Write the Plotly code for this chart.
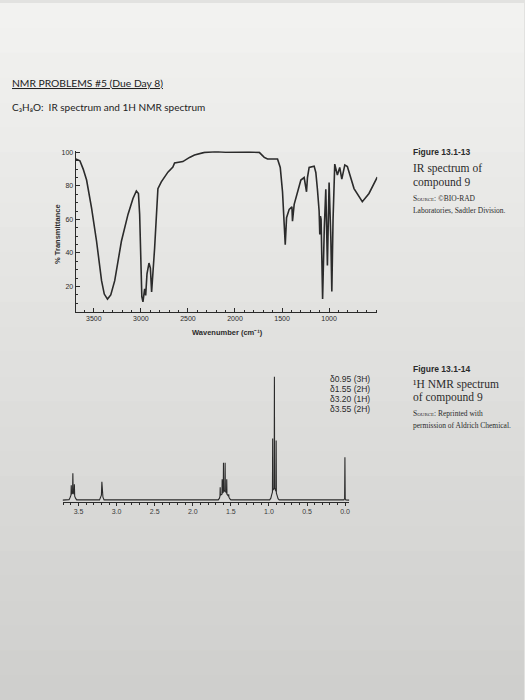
import plotly.graph_objects as go

# ---------------- data ----------------
ir_wavenumber = [3691, 3648, 3613, 3577, 3524, 3471, 3418, 3389, 3355, 3320, 3278, 3207,
                 3137, 3084, 3048, 3026, 3013, 2997, 2990, 2978, 2960, 2949, 2935, 2914,
                 2899, 2886, 2872, 2854, 2819, 2783, 2713, 2660, 2642, 2554, 2483, 2430,
                 2324, 2200, 2100, 1953, 1850, 1742, 1689, 1654, 1548, 1519, 1495, 1477,
                 1466, 1452, 1424, 1395, 1389, 1371, 1336, 1300, 1265, 1240, 1230, 1212,
                 1159, 1141, 1124, 1106, 1099, 1092, 1085, 1069, 1051, 1035, 1018, 1000,
                 982, 971, 958, 940, 912, 887, 865, 833, 806, 770, 735, 647, 576, 488]
ir_transmittance = [96, 95, 90, 83.5, 66.7, 47, 23.5, 15.5, 12.5, 15, 23.5, 47,
                    63, 72.5, 77, 75.5, 63, 30, 14, 10.8, 18.6, 14.7, 27.6, 34,
                    31, 16.7, 27.6, 43, 78.4, 82.4, 88.2, 91.2, 93.7, 94.5, 97, 98.4,
                    100, 100.4, 100.1, 100.3, 100.2, 100, 97, 96, 96, 91, 76.5, 57,
                    45, 61, 66, 67.6, 59, 69, 76.5, 83.5, 85, 76.5, 85, 91,
                    91.8, 88, 78, 65, 51, 62, 60, 12.5, 55, 78, 32.6, 82,
                    50, 17, 60, 93, 86.5, 91, 84, 92.5, 91.5, 85, 78.4, 70.6, 75.5, 85.3]

ir_x_ticks = [3500, 3000, 2500, 2000, 1500, 1000]
ir_y_ticks = [20, 40, 60, 80, 100]

nmr_ppm = [3.710, 3.625, 3.610, 3.600, 3.596, 3.592, 3.579, 3.575, 3.571, 3.559, 3.555,
           3.551, 3.540, 3.525,
           3.225, 3.210, 3.200, 3.194, 3.188, 3.180, 3.165,
           1.665, 1.650, 1.643, 1.640, 1.637, 1.617, 1.614, 1.611, 1.600, 1.597, 1.594,
           1.586, 1.578, 1.575, 1.572, 1.557, 1.554, 1.551, 1.531, 1.528, 1.525, 1.515, 1.500,
           0.990, 0.975, 0.965, 0.954, 0.951, 0.948, 0.931, 0.928, 0.925, 0.908, 0.905,
           0.902, 0.890, 0.880, 0.865,
           0.015, 0.006, 0.002, -0.002, -0.010, -0.056]
nmr_intensity = [0, 0.5, 3, 5, 15, 6, 7, 27, 8, 6, 16,
                 4, 2, 0.3,
                 0.3, 3, 5, 18.5, 5, 3, 0.3,
                 0.3, 2, 4, 13, 5, 6, 21, 7, 8, 37.6, 10,
                 9, 10, 37.6, 9, 7, 21, 6, 4, 6, 3, 1.5, 0.3,
                 0.3, 2, 5, 8, 62, 10, 12, 124, 12, 9, 60,
                 7, 4, 1.5, 0.3,
                 0.3, 1.5, 43, 1.5, 0.3, 0]
nmr_ticks = [3.5, 3.0, 2.5, 2.0, 1.5, 1.0, 0.5, 0.0]
nmr_tick_text = ["3.5", "3.0", "2.5", "2.0", "1.5", "1.0", "0.5", "0.0"]
nmr_peak_labels = ["δ0.95 (3H)", "δ1.55 (2H)", "δ3.20 (1H)", "δ3.55 (2H)"]

header_lines = ["NMR PROBLEMS #5 (Due Day 8)",
                "C₃H₈O:  IR spectrum and 1H NMR spectrum"]
ir_caption = ["Figure 13.1-13", "IR spectrum of", "compound 9",
              "Source: ©BIO-RAD", "Laboratories, Sadtler Division."]
nmr_caption = ["Figure 13.1-14", "¹H NMR spectrum", "of compound 9",
               "Source:", "permission of Aldrich Chemical."]
nmr_source_rest = "Reprinted with"

# ---------------- layout helpers ----------------
W, H = 525, 700
INK = "#2b2b2b"


def fx(x):
    return x / W


def fy(y):
    return 1 - y / H


fig = go.Figure()

fig.add_trace(go.Scatter(x=ir_wavenumber, y=ir_transmittance, mode="lines",
                         line=dict(color=INK, width=1.6), xaxis="x", yaxis="y",
                         cliponaxis=False, hoverinfo="skip", showlegend=False))
fig.add_trace(go.Scatter(x=nmr_ppm, y=nmr_intensity, mode="lines",
                         line=dict(color=INK, width=1.1), xaxis="x2", yaxis="y2",
                         cliponaxis=False, hoverinfo="skip", showlegend=False))

# page background (photographed paper, light at top, greyer at bottom)
shapes = []
n_bands = 28
top_rgb = (242, 242, 240)
bot_rgb = (207, 207, 205)
for i in range(n_bands):
    t = i / (n_bands - 1)
    c = tuple(int(round(top_rgb[k] + (bot_rgb[k] - top_rgb[k]) * t)) for k in range(3))
    shapes.append(dict(type="rect", xref="paper", yref="paper", x0=0, x1=1,
                       y0=1 - (i + 1) / n_bands - 0.002, y1=1 - i / n_bands,
                       fillcolor="rgb(%d,%d,%d)" % c, line=dict(width=0), layer="below"))

annotations = []


def text(s, x, y, size, family="Liberation Sans", xanchor="left", angle=0,
         color=INK, **fontkw):
    font = dict(size=size, family=family, color=color)
    font.update(fontkw)
    annotations.append(dict(text=s, x=fx(x), y=fy(y), xref="paper", yref="paper",
                            xanchor=xanchor, yanchor="middle", showarrow=False,
                            textangle=angle, font=font))


text(header_lines[0], 10, 80, 10.3, family="Lato", color="#222222", lineposition="under")
text(header_lines[1], 10, 104, 10, family="Lato", color="#222222")

# IR axis titles
text("Wavenumber (cm⁻¹)", 228, 331, 7.5, xanchor="center", weight="bold")
text("% Transmittance", 57, 232, 7.5, xanchor="center", angle=-90, weight="bold")

# captions
cap_size = [8.5, 11.5, 11.5, 7.5, 7.5]
cap_font = ["Liberation Sans", "Liberation Serif", "Liberation Serif",
            "Liberation Serif", "Liberation Serif"]
cap_weight = ["bold", "normal", "normal", "normal", "normal"]
cap_variant = ["normal", "normal", "normal", "small-caps", "normal"]

cap_y = [150, 166, 180, 196, 208]
for s, yy, sz, fam, wt, var in zip(ir_caption, cap_y, cap_size, cap_font, cap_weight, cap_variant):
    text(s, 412, yy, sz, family=fam, weight=wt, variant=var)

ncap_y = [368, 383, 396, 412, 424]
for s, yy, sz, fam, wt, var in zip(nmr_caption, ncap_y, cap_size, cap_font, cap_weight, cap_variant):
    text(s, 412, yy, sz, family=fam, weight=wt, variant=var)
text(nmr_source_rest, 437, ncap_y[3], 7.5, family="Liberation Serif")

# NMR peak list
for i, s in enumerate(nmr_peak_labels):
    text(s, 329, 378 + 10 * i, 8.5)

fig.update_layout(
    width=W, height=H,
    margin=dict(l=0, r=0, t=0, b=0),
    paper_bgcolor="rgb(226,226,224)",
    plot_bgcolor="rgba(0,0,0,0)",
    showlegend=False,
    hovermode=False,
    shapes=shapes,
    annotations=annotations,
    xaxis=dict(domain=[fx(76), fx(378)], range=[3691, 488], autorange=False,
               tickmode="array", tickvals=ir_x_ticks, ticks="inside", ticklen=4,
               tickwidth=1, tickcolor=INK, showline=True, linecolor=INK, linewidth=1.2,
               showgrid=False, zeroline=False, anchor="y",
               tickfont=dict(size=7, family="Liberation Sans", color=INK),
               minor=dict(dtick=100, tick0=0, ticks="inside", ticklen=2,
                          tickcolor=INK, showgrid=False)),
    yaxis=dict(domain=[fy(310), fy(149)], range=[5, 100.6], autorange=False,
               tickmode="array", tickvals=ir_y_ticks, ticks="inside", ticklen=4,
               tickwidth=1, tickcolor=INK, showline=True, linecolor=INK, linewidth=1.2,
               showgrid=False, zeroline=False, anchor="x",
               tickfont=dict(size=7, family="Liberation Sans", color=INK),
               minor=dict(dtick=5, tick0=0, ticks="inside", ticklen=2,
                          tickcolor=INK, showgrid=False)),
    xaxis2=dict(domain=[fx(62.7), fx(350)], range=[3.71, -0.056], autorange=False,
                tickmode="array", tickvals=nmr_ticks, ticktext=nmr_tick_text,
                ticks="outside", ticklen=3, tickwidth=1, tickcolor=INK,
                showline=True, linecolor=INK, linewidth=1.3,
                showgrid=False, zeroline=False, anchor="y2",
                tickfont=dict(size=7, family="Liberation Sans", color="#3a3a3a"),
                minor=dict(dtick=0.1, tick0=0, ticks="outside", ticklen=2,
                           tickcolor=INK, showgrid=False)),
    yaxis2=dict(domain=[fy(500.7), fy(369)], range=[-1.4, 130.3], autorange=False,
                visible=False, anchor="x2"),
)

fig.write_html("out.html",
               config={"displayModeBar": False, "staticPlot": True},
               post_script="document.body.style.margin='0';document.body.style.padding='0';")
